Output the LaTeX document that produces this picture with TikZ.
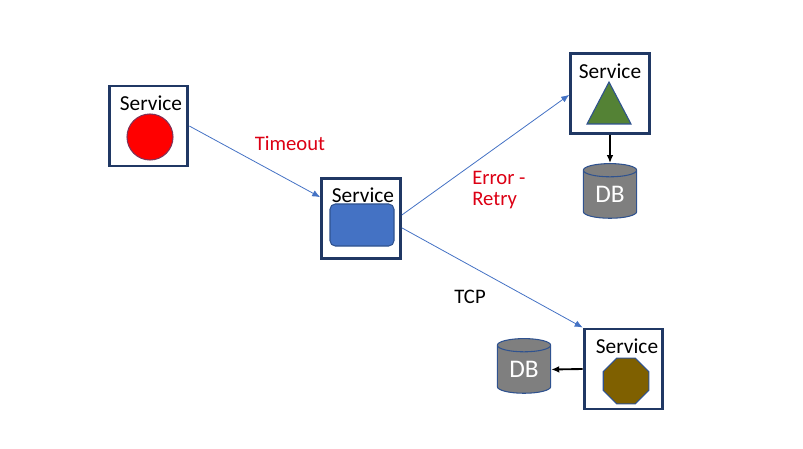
\documentclass[tikz,border=0pt]{standalone}
\usepackage{fontspec}
\setmainfont{Carlito}
\usetikzlibrary{positioning,shapes.geometric,arrows.meta}

\definecolor{navy}{RGB}{32,56,100}
\definecolor{linkblue}{RGB}{68,114,196}
\definecolor{edgeblue}{RGB}{47,82,143}
\definecolor{dbgray}{RGB}{127,127,127}
\definecolor{leafgreen}{RGB}{84,130,53}
\definecolor{mudbrown}{RGB}{127,96,0}
\definecolor{errred}{RGB}{220,0,20}

\tikzset{
    svcbox/.style={draw=navy, line width=2.2pt, fill=white, minimum width=59pt, minimum height=60pt, inner sep=0pt},
    svctext/.style={font=\fontsize{16}{19}\selectfont, inner sep=0pt},
    dbcyl/.style={cylinder, shape border rotate=90, aspect=0.45, draw=edgeblue, line width=0.8pt, fill=dbgray,
                  minimum width=40pt, minimum height=41pt, inner sep=0pt,
                  text=white, font=\fontsize{19}{22}\selectfont},
    link/.style={->, draw=linkblue, line width=0.6pt},
    dblink/.style={->, black, line width=1.4pt},
    errlabel/.style={text=errred, font=\fontsize{15.5}{16}\selectfont, align=left, inner sep=0pt}
}

\begin{document}
\begin{tikzpicture}[x=0.75pt, y=-0.75pt, >={Latex[length=6pt,width=5pt]}]
    \useasboundingbox (0,0) rectangle (803,449);

    % Service boxes
    \node (svcA) [svcbox] at (148.5,126) {};
    \node (svcB) [svcbox] at (361,218.5) {};
    \node (svcC) [svcbox] at (610,93.5) {};
    \node (svcD) [svcbox] at (623.5,369) {};

    \node (txtA) [svctext] at (151,103) {Service};
    \node (txtB) [svctext] at (363,195) {Service};
    \node (txtC) [svctext] at (610,71) {Service};
    \node (txtD) [svctext] at (627,346) {Service};

    % Shapes inside the boxes
    \node (ball) [circle, draw=edgeblue!60!red, line width=0.8pt, fill=red, minimum size=34.5pt, inner sep=0pt] at (150,137) {};
    \node (pad) [rectangle, rounded corners=4pt, draw=edgeblue, line width=0.8pt, fill=linkblue, minimum width=48pt, minimum height=31.5pt] at (362,225) {};
    \draw[draw=edgeblue, line width=0.8pt, fill=leafgreen] (609,82) -- (631,124) -- (587,124) -- cycle;
    \node (stop) [regular polygon, regular polygon sides=8, draw=edgeblue, line width=0.8pt, fill=mudbrown, minimum size=37pt, inner sep=0pt] at (626,381) {};

    % Databases
    \node (dbC) [dbcyl] at (610,194.5) {DB};
    \node (dbD) [dbcyl] at (524,369.5) {DB};

    % Connectors
    \draw[link] (svcA.east) -- ([yshift=16pt]svcB.west);
    \draw[link] ([yshift=2.6pt]svcB.east) -- ([yshift=-1pt]svcC.west);
    \draw[link] ([yshift=-7pt]svcB.east) -- (svcD.north west);
    \draw[dblink] (svcC.south) -- (dbC.north);
    \draw[dblink] (svcD.west) -- (dbD.east);

    % Labels
    \node (timeout) [errlabel] at (290,143) {Timeout};
    \node (retry) [errlabel, anchor=west] at (472,190) {Error -\\Retry};
    \node (tcp) [svctext, font=\fontsize{15.5}{19}\selectfont] at (470,297) {TCP};
\end{tikzpicture}
\end{document}
